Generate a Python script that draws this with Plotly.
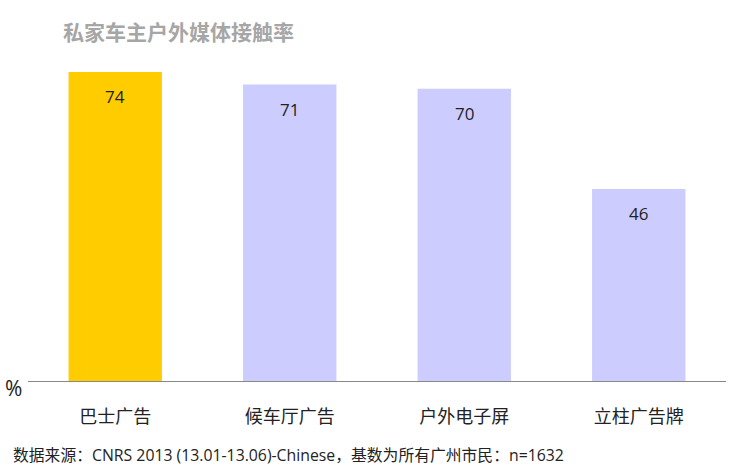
import plotly.graph_objects as go

categories = ["巴士广告", "候车厅广告", "户外电子屏", "立柱广告牌"]
values = [74, 71, 70, 46]
bar_colors = ["#FFCC00", "#CCCCFF", "#CCCCFF", "#CCCCFF"]

title_text = "私家车主户外媒体接触率"
source_text = "数据来源：CNRS 2013 (13.01-13.06)-Chinese，基数为所有广州市民：n=1632"

FONT = "Open Sans, Noto Sans CJK SC, sans-serif"

fig = go.Figure()
fig.add_trace(go.Bar(
    x=categories, y=values, marker_color=bar_colors, width=0.535,
    marker_line_width=0, hoverinfo="skip"
))

for c, v in zip(categories, values):
    fig.add_annotation(x=c, y=v, text=str(v), showarrow=False, yshift=-25,
                       yanchor="middle", font=dict(size=17, color="#222222", family=FONT))

fig.add_annotation(xref="paper", yref="paper", x=-0.021, y=0.0, yshift=-7, text="%",
                   showarrow=False, xanchor="center", yanchor="middle",
                   font=dict(size=21, color="#222222", family=FONT))

fig.add_annotation(xref="paper", yref="paper", x=0.047, y=1.0, yshift=29, text=f"<b>{title_text}</b>",
                   showarrow=False, xanchor="left", yanchor="middle",
                   font=dict(size=21, color="#A6A6A6", family="Noto Sans CJK SC, sans-serif"))

fig.add_annotation(xref="paper", yref="paper", x=-0.025, y=0.0, yshift=-74, text=source_text,
                   showarrow=False, xanchor="left", yanchor="middle",
                   font=dict(size=15.8, color="#222222", family=FONT))

fig.update_layout(
    width=733, height=471,
    margin=dict(l=28, r=7, t=60, b=90),
    paper_bgcolor="white", plot_bgcolor="white",
    showlegend=False,
    font=dict(family=FONT, color="#222222"),
    xaxis=dict(range=[-0.5, 3.5], showline=True, linecolor="#888888", linewidth=1,
               ticks="", tickfont=dict(size=18, color="#222222", family="Noto Sans CJK SC, sans-serif"),
               ticklabelstandoff=19),
    yaxis=dict(range=[0, 76.87], showgrid=False, showticklabels=False, zeroline=False,
               showline=False),
)

fig.write_html("out.html", config={"displayModeBar": False},
               post_script="document.body.style.margin='0';document.body.style.overflow='hidden';")
